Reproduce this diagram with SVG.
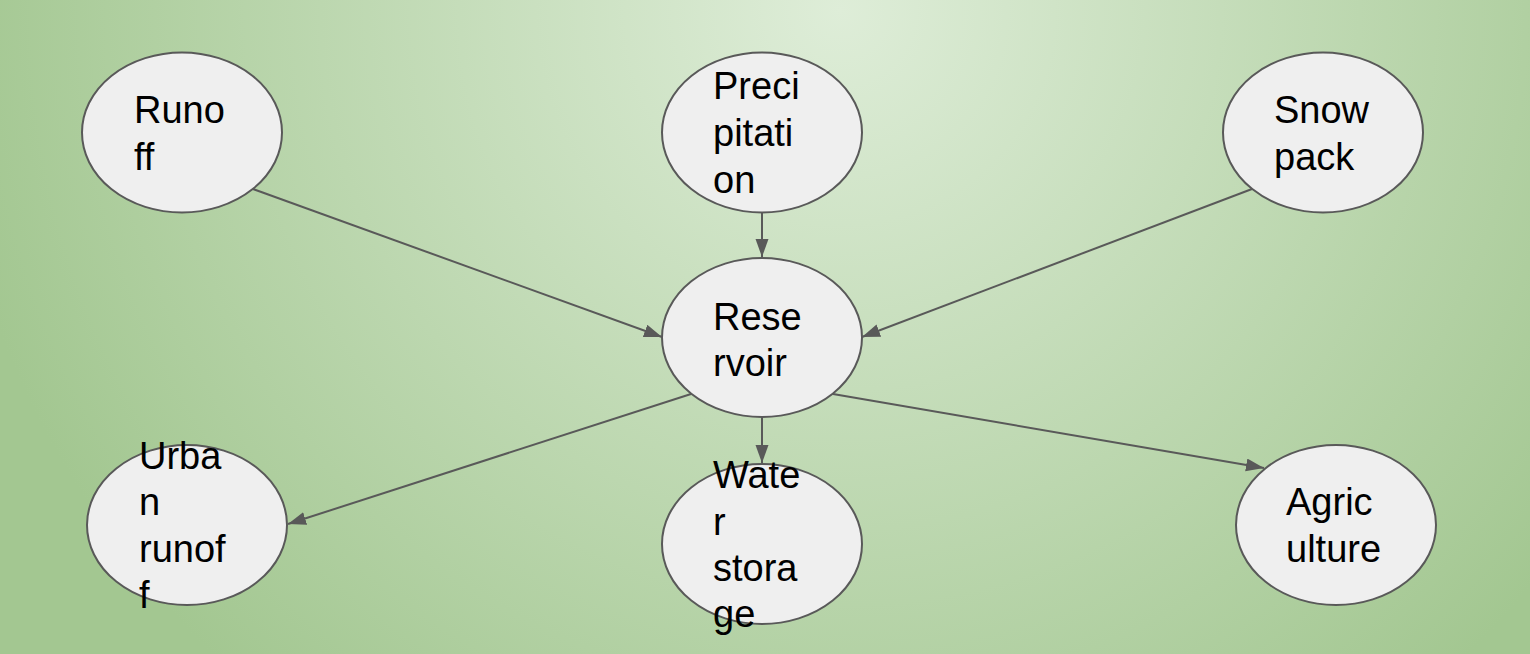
<svg xmlns="http://www.w3.org/2000/svg" width="1530" height="654" viewBox="0 0 1530 654">
<defs>
<radialGradient id="bg" gradientUnits="userSpaceOnUse" cx="840" cy="10" r="900">
<stop offset="0" stop-color="#deedd8"/>
<stop offset="1" stop-color="#a3c791"/>
</radialGradient>
<marker id="ah" markerUnits="userSpaceOnUse" markerWidth="18" markerHeight="14" refX="18" refY="6.5" orient="auto">
<path d="M0,0 L18,6.5 L0,13 z" fill="#595959"/>
</marker>
<style>
.n ellipse{fill:#efefef;stroke:#595959;stroke-width:2}
.n text{font-family:"Liberation Sans",Arial,sans-serif;font-size:38px;fill:#000}
.c line{stroke:#595959;stroke-width:2;marker-end:url(#ah)}
</style>
</defs>
<rect width="1530" height="654" fill="url(#bg)"/>
<g id="connectors" class="c">
<line x1="762" y1="213" x2="762" y2="257"/>
<line x1="253" y1="189" x2="662" y2="337"/>
<line x1="1252" y1="189" x2="862" y2="337"/>
<line x1="691" y1="394" x2="288" y2="524"/>
<line x1="762" y1="417" x2="762" y2="463"/>
<line x1="833" y1="394" x2="1264" y2="468"/>
</g>
<g id="runoff" class="n">
<ellipse cx="182" cy="132.5" rx="100" ry="80"/>
<text x="134" y="123">Runo</text>
<text x="134" y="170">ff</text>
</g>
<g id="precipitation" class="n">
<ellipse cx="762" cy="132.5" rx="100" ry="80"/>
<text x="713" y="99">Preci</text>
<text x="713" y="146">pitati</text>
<text x="713" y="193">on</text>
</g>
<g id="snowpack" class="n">
<ellipse cx="1323" cy="132.5" rx="100" ry="80"/>
<text x="1274" y="123">Snow</text>
<text x="1274" y="170">pack</text>
</g>
<g id="reservoir" class="n">
<ellipse cx="762" cy="337.5" rx="100" ry="79.5"/>
<text x="713" y="330">Rese</text>
<text x="713" y="376">rvoir</text>
</g>
<g id="urban-runoff" class="n">
<ellipse cx="187" cy="525" rx="100" ry="80"/>
<text x="139" y="469">Urba</text>
<text x="139" y="515">n</text>
<text x="139" y="562">runof</text>
<text x="139" y="608">f</text>
</g>
<g id="water-storage" class="n">
<ellipse cx="762" cy="544" rx="100" ry="80"/>
<text x="713" y="488">Wate</text>
<text x="713" y="535">r</text>
<text x="713" y="581">stora</text>
<text x="713" y="627">ge</text>
</g>
<g id="agriculture" class="n">
<ellipse cx="1336" cy="525" rx="100" ry="80"/>
<text x="1286" y="515">Agric</text>
<text x="1286" y="562">ulture</text>
</g>
</svg>
